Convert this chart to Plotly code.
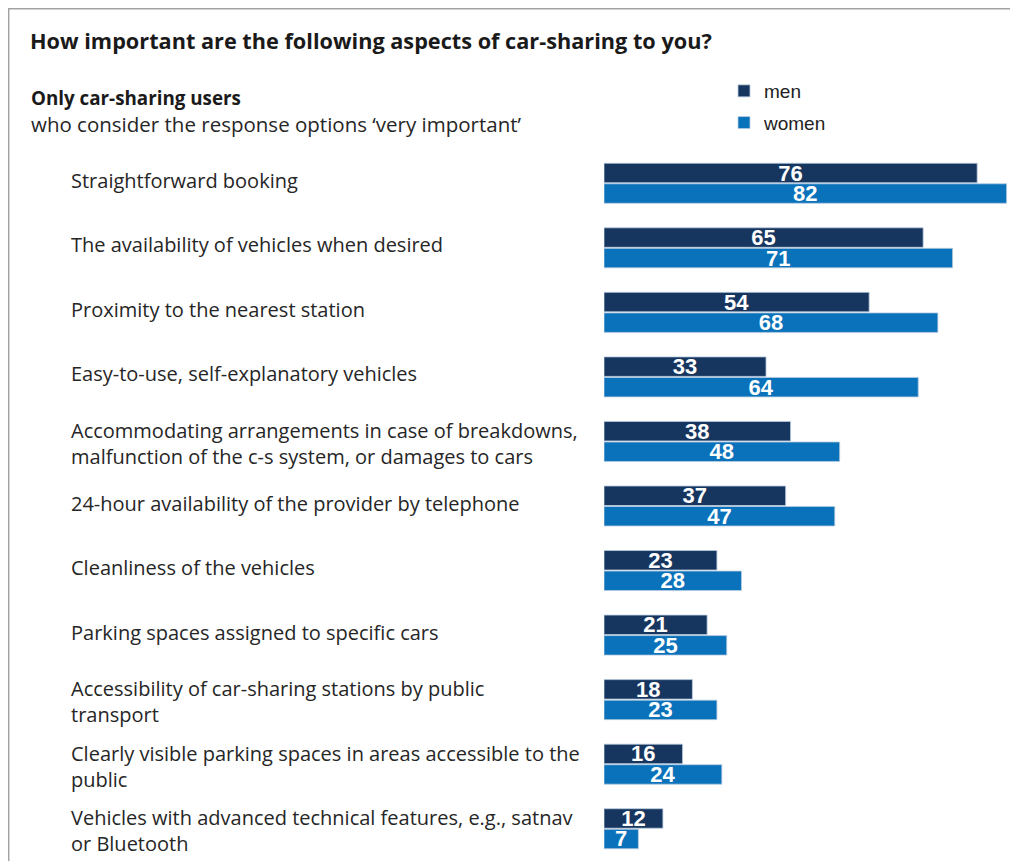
import plotly.graph_objects as go

categories = [
    "Straightforward booking",
    "The availability of vehicles when desired",
    "Proximity to the nearest station",
    "Easy-to-use, self-explanatory vehicles",
    "Accommodating arrangements in case of breakdowns,<br>malfunction of the c-s system, or damages to cars",
    "24-hour availability of the provider by telephone",
    "Cleanliness of the vehicles",
    "Parking spaces assigned to specific cars",
    "Accessibility of car-sharing stations by public<br>transport",
    "Clearly visible parking spaces in areas accessible to the<br>public",
    "Vehicles with advanced technical features, e.g., satnav<br>or Bluetooth",
]
men = [76, 65, 54, 33, 38, 37, 23, 21, 18, 16, 12]
women = [82, 71, 68, 64, 48, 47, 28, 25, 23, 24, 7]

title = "How important are the following aspects of car-sharing to you?"
sub1 = "Only car-sharing users"
sub2 = "who consider the response options \u2018very important\u2019"

# page body adds an 8px offset; positions below are given in screen pixels
OFF = 8
W, H = 1010, 853
L, R, T, B = 596, 0, 143, 0
PW, PH = W - L - R, H - T - B


def px2x(px):
    return (px - OFF - L) / PW


def px2y(py):
    return 1 - (py - OFF - T) / PH


MEN_C = "#17365f"
WOMEN_C = "#0a72bb"
LABEL_FONT = "Open Sans"
TXT_C = "#262626"

fig = go.Figure()
for name, vals, col, grp in [("men", men, MEN_C, "m"), ("women", women, WOMEN_C, "w")]:
    fig.add_trace(go.Bar(
        y=categories, x=vals, name=name, orientation="h",
        marker=dict(color=col, line=dict(color="#b9cbe0", width=0.8)),
        text=vals, textposition="inside", insidetextanchor="middle",
        constraintext="none", textangle=0,
        textfont=dict(family="Liberation Sans", size=22, color="white", weight="bold"),
        legendgroup=grp,
    ))

annotations = []
for c in categories:
    annotations.append(dict(
        xref="paper", yref="y", x=px2x(69), y=c, text=c,
        xanchor="left", yanchor="middle", align="left", showarrow=False,
        yshift=(-2 if "<br>" in c else 3),
        font=dict(family=LABEL_FONT, size=20, color=TXT_C),
    ))
annotations.append(dict(
    xref="paper", yref="paper", x=px2x(29), y=px2y(98), text="<b>" + sub1 + "</b>",
    xanchor="left", yanchor="middle", showarrow=False,
    font=dict(family=LABEL_FONT, size=18.8, color="#1a1a1a"),
))
annotations.append(dict(
    xref="paper", yref="paper", x=px2x(29), y=px2y(124), text=sub2,
    xanchor="left", yanchor="middle", showarrow=False,
    font=dict(family=LABEL_FONT, size=20.5, color=TXT_C),
))

shapes = [dict(
    type="rect", xref="paper", yref="paper",
    x0=px2x(8.7), x1=px2x(1040), y0=px2y(8.7), y1=px2y(900),
    fillcolor="white", line=dict(color="#a3a3a3", width=1.5), layer="below",
)]

fig.update_layout(
    width=W, height=H,
    margin=dict(l=L, r=R, t=T, b=B, pad=0, autoexpand=False),
    paper_bgcolor="white", plot_bgcolor="rgba(0,0,0,0)",
    barmode="group", bargap=0.364, bargroupgap=0.05,
    title=dict(
        text="<b>" + title + "</b>", x=(30 - OFF) / W, xanchor="left",
        y=1 - (41 - OFF) / H, yanchor="middle",
        font=dict(family=LABEL_FONT, size=21.7, color="#1a1a1a"),
    ),
    xaxis=dict(range=[0, PW / 4.91], visible=False, fixedrange=True),
    yaxis=dict(autorange="reversed", visible=False, categoryorder="array",
               categoryarray=categories),
    legend=dict(
        xref="paper", yref="paper", x=px2x(724), y=px2y(72),
        xanchor="left", yanchor="top", orientation="v",
        traceorder="grouped", tracegroupgap=4,
        font=dict(family="Liberation Sans", size=19, color="#222222"),
        bgcolor="rgba(0,0,0,0)",
    ),
    annotations=annotations,
    shapes=shapes,
    showlegend=True,
)

fig.write_html("out.html")
